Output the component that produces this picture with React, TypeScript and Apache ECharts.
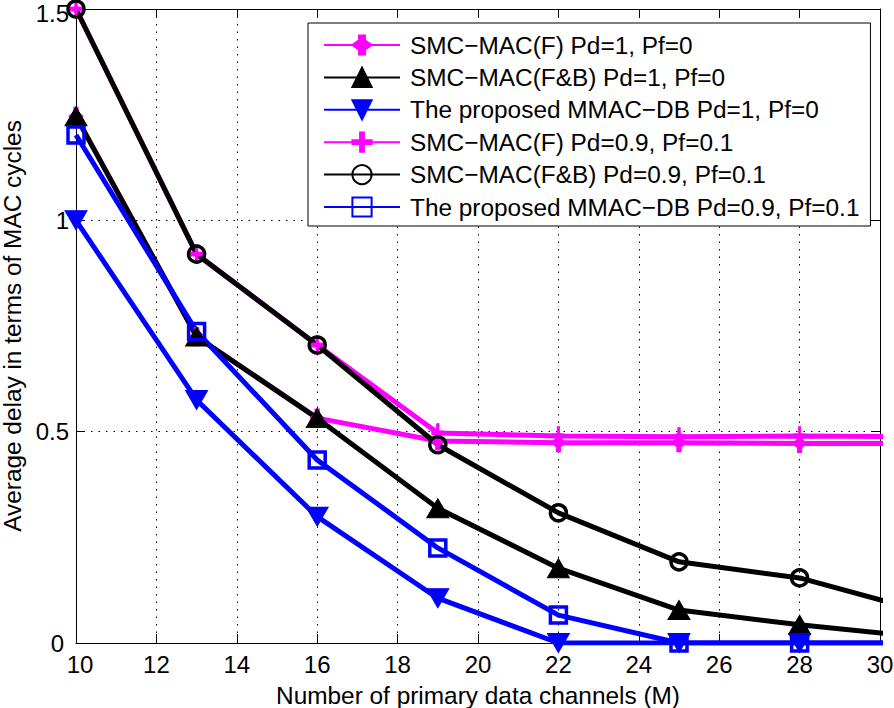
import React, { useEffect, useRef } from "react";
import * as echarts from "echarts";

const channels = [10, 13, 16, 19, 22, 25, 28, 31];
const smcFPd1 = [1.246, 0.725, 0.532, 0.478, 0.474, 0.474, 0.472, 0.472];
const smcFBPd1 = [1.246, 0.725, 0.532, 0.319, 0.177, 0.078, 0.043, 0.0145];
const mmacPd1 = [1.0, 0.575, 0.299, 0.106, 0, 0, 0, 0];
const smcFPd09 = [1.5, 0.92, 0.705, 0.497, 0.49, 0.488, 0.49, 0.488];
const smcFBPd09 = [1.5, 0.92, 0.705, 0.469, 0.308, 0.192, 0.154, 0.076];
const mmacPd09 = [1.202, 0.737, 0.433, 0.225, 0.066, 0, 0, 0];

const seriesNames = [
  "SMC\u2212MAC(F) Pd=1, Pf=0",
  "SMC\u2212MAC(F&B) Pd=1, Pf=0",
  "The proposed MMAC\u2212DB Pd=1, Pf=0",
  "SMC\u2212MAC(F) Pd=0.9, Pf=0.1",
  "SMC\u2212MAC(F&B) Pd=0.9, Pf=0.1",
  "The proposed MMAC\u2212DB Pd=0.9, Pf=0.1",
];

const xTicks = { min: 10, max: 30, interval: 2 };
const yTicks = { min: 0, max: 1.5, interval: 0.5 };

const FONT = "'Liberation Sans', Arial, Helvetica, sans-serif";
const PLUS = "path://M4,0 L6,0 L6,4 L10,4 L10,6 L6,6 L6,10 L4,10 L4,6 L0,6 L0,4 L4,4 Z";
const PLUS_D = "path://M4.2,0 L5.8,0 L5.8,2.6 L7.6,5 L5.8,7.4 L5.8,10 L4.2,10 L4.2,7.4 L2.4,5 L4.2,2.6 Z";

function pairs(vals: number[]) {
  return channels.map((x, i) => [x, vals[i]]);
}

export default function App() {
  const ref = useRef<HTMLDivElement>(null);
  useEffect(() => {
    if (!ref.current) return;
    const chart = echarts.init(ref.current, undefined, { renderer: "svg" });
    const lw = 5;
    const mk = (
      name: string,
      vals: number[],
      color: string,
      symbol: string,
      size: any,
      filled: boolean,
      rotate = 0
    ) => ({
      name,
      type: "line",
      data: pairs(vals),
      clip: true,
      symbol,
      symbolSize: size,
      symbolRotate: rotate,
      showAllSymbol: true,
      lineStyle: { color, width: lw },
      itemStyle: filled
        ? { color, borderColor: color, borderWidth: 1 }
        : { color: "transparent", borderColor: color, borderWidth: 3.5 },
      emphasis: { disabled: true },
    });
    const axisCommon = {
      axisLine: { show: true, onZero: false, lineStyle: { color: "#000", width: 1 } },
      axisTick: { show: true, inside: true, length: 9, lineStyle: { color: "#000", width: 1 } },
    };
    const lbl = { fontSize: 24, color: "#000", fontFamily: FONT };
    chart.setOption({
      animation: false,
      backgroundColor: "#fff",
      textStyle: { fontFamily: FONT },
      grid: { left: 76, right: 14, top: 9, bottom: 65, containLabel: false, outerBoundsMode: "none" },
      legend: {
        orient: "vertical",
        left: 308,
        top: 23,
        padding: [10, 11, 7, 15],
        borderColor: "#000",
        borderWidth: 1,
        backgroundColor: "#fff",
        itemWidth: 76,
        itemHeight: 24,
        itemGap: 8.4,
        selectedMode: false,
        textStyle: { fontSize: 24.4, color: "#000", fontFamily: FONT, lineHeight: 24, padding: [0, 0, 0, 5] },
        data: seriesNames,
      },
      xAxis: [
        {
          type: "value",
          ...xTicks,
          name: "Number of primary data channels (M)",
          nameLocation: "middle",
          nameGap: 40,
          nameTextStyle: { fontSize: 24.4, color: "#000", fontFamily: FONT },
          ...axisCommon,
          axisLabel: {
            ...lbl,
            margin: 12,
            lineHeight: 18,
            formatter: (v: number) => (v === xTicks.min ? "{first|" + v + "}" : String(v)),
            rich: { first: { ...lbl, lineHeight: 18, padding: [0, 0, 0, 8] } },
          },
          splitLine: { show: true, lineStyle: { color: "#000", width: 1, type: [1.5, 6] } },
        },
        {
          type: "value",
          position: "top",
          ...xTicks,
          ...axisCommon,
          axisLabel: { show: false },
          splitLine: { show: false },
        },
      ],
      yAxis: [
        {
          type: "value",
          ...yTicks,
          name: "Average delay in terms of MAC cycles",
          nameLocation: "middle",
          nameGap: 48,
          nameTextStyle: { fontSize: 24.4, color: "#000", fontFamily: FONT },
          ...axisCommon,
          axisLabel: {
            ...lbl,
            margin: 7,
            lineHeight: 14,
            formatter: (v: number) =>
              v === yTicks.min ? "{low|" + v + "}" : v === yTicks.max ? "{high|" + v + "}" : String(v),
            rich: {
              low: { ...lbl, lineHeight: 14, padding: [0, 5, 0, 0] },
              high: { ...lbl, lineHeight: 14, padding: [8, 0, 0, 0] },
            },
          },
          splitLine: { show: true, lineStyle: { color: "#000", width: 1, type: [1.5, 6] } },
        },
        {
          type: "value",
          position: "right",
          ...yTicks,
          ...axisCommon,
          axisLabel: { show: false },
          splitLine: { show: false },
        },
      ],
      series: [
        mk(seriesNames[0], smcFPd1, "#ff00ff", PLUS_D, [14, 18], true),
        mk(seriesNames[1], smcFBPd1, "#000000", "triangle", [22, 19], true),
        mk(seriesNames[2], mmacPd1, "#0000ff", "triangle", [22, 19], true, 180),
        mk(seriesNames[3], smcFPd09, "#ff00ff", PLUS, [12, 18], true),
        mk(seriesNames[4], smcFBPd09, "#000000", "circle", 16, false),
        mk(seriesNames[5], mmacPd09, "#0000ff", "rect", 16, false),
      ],
    });
    return () => chart.dispose();
  }, []);
  return (
    <div
      ref={ref}
      style={{ position: "fixed", left: 0, top: 0, width: 894, height: 708, background: "#fff" }}
    />
  );
}
